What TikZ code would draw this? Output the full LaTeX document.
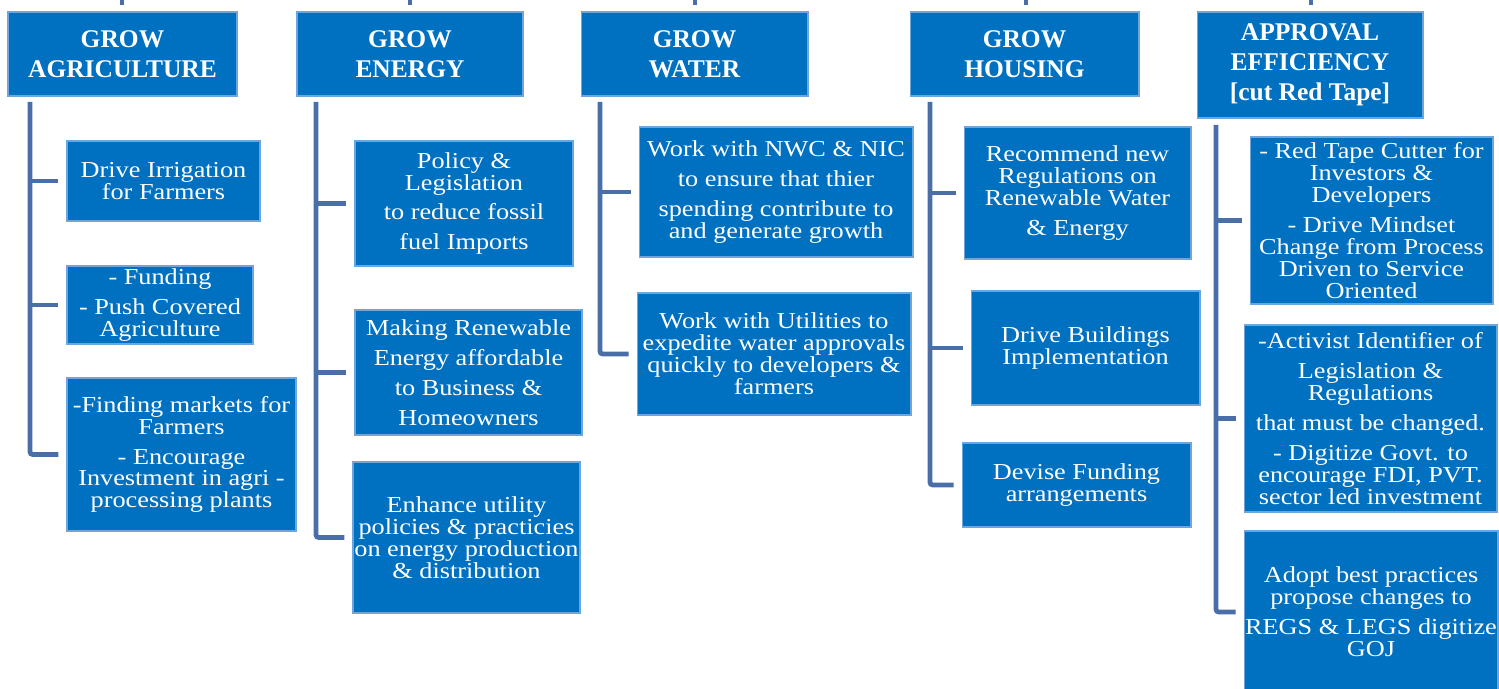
\documentclass[tikz,border=0pt]{standalone}
\usepackage{fontspec}
\setmainfont{Liberation Serif}
\newfontfamily\widefont{Liberation Serif}[FakeStretch=1.15]

\definecolor{boxblue}{RGB}{0,112,192}
\definecolor{linkblue}{RGB}{74,110,168}
\definecolor{edgeblue}{RGB}{110,165,220}

\tikzset{
	head/.style={rectangle,fill=boxblue,draw=edgeblue,line width=0.6pt,text=white,align=center,inner sep=0pt,font=\bfseries\fontsize{14.5}{17}\selectfont},
	task/.style={rectangle,fill=boxblue,draw=edgeblue,line width=0.6pt,text=white,align=center,inner sep=0pt,font=\widefont\fontsize{13}{12.5}\selectfont},
	link/.style={draw=linkblue,line width=2.7pt,rounded corners=1.5pt,shorten >=0.16cm},
	stub/.style={draw=linkblue,line width=2.3pt}
}

\begin{document}
\begin{tikzpicture}[x=0.02cm,y=-0.02cm]
		\useasboundingbox (0,0) rectangle (1499,689);

		% headers
		\node[head,minimum width=4.58cm,minimum height=1.68cm] (hagri) at (122.5,54) {GROW\\AGRICULTURE};
		\node[head,minimum width=4.52cm,minimum height=1.68cm] (henergy) at (410,54) {GROW\\ENERGY};
		\node[head,minimum width=4.54cm,minimum height=1.68cm] (hwater) at (694.5,54) {GROW\\WATER};
		\node[head,minimum width=4.58cm,minimum height=1.68cm] (hhousing) at (1024.5,54) {GROW\\HOUSING};
		\node[head,minimum width=4.52cm,minimum height=2.12cm] (happroval) at (1310,65) {APPROVAL\\EFFICIENCY\\{}[cut Red Tape]};

		% stubs from above
		\coordinate (sa1) at (122,0);   \coordinate (sa2) at (122,5);
		\coordinate (se1) at (410,0);   \coordinate (se2) at (410,5);
		\coordinate (sw1) at (695,0);   \coordinate (sw2) at (695,5);
		\coordinate (sh1) at (1026,0);  \coordinate (sh2) at (1026,5);
		\coordinate (sp1) at (1311,0);  \coordinate (sp2) at (1311,5);
		\draw[stub] (sa1) -- (sa2);
		\draw[stub] (se1) -- (se2);
		\draw[stub] (sw1) -- (sw2);
		\draw[stub] (sh1) -- (sh2);
		\draw[stub] (sp1) -- (sp2);

		% agriculture
		\node[task,minimum width=3.86cm,minimum height=1.6cm] (agri1) at (163.5,181) {Drive Irrigation\\for Farmers};
		\node[task,minimum width=3.72cm,minimum height=1.56cm] (agri2) at (160,305) {- Funding\\[4.5pt]- Push Covered\\Agriculture};
		\node[task,minimum width=4.58cm,minimum height=3.06cm] (agri3) at (181.5,454.5) {-Finding markets for\\Farmers\\[4.5pt]- Encourage\\Investment in agri -\\processing plants};

		% energy
		\node[task,minimum width=4.36cm,minimum height=2.5cm] (energy1) at (464,203.5) {Policy \&\\Legislation\\[4.5pt]to reduce fossil\\[4.5pt]fuel Imports};
		\node[task,minimum width=4.54cm,minimum height=2.5cm] (energy2) at (468.5,372.5) {Making Renewable\\[4.5pt]Energy affordable\\[4.5pt]to Business \&\\[4.5pt]Homeowners};
		\node[task,minimum width=4.54cm,minimum height=3.02cm] (energy3) at (466.5,537.5) {Enhance utility\\policies \& practicies\\on energy production\\\& distribution};

		% water
		\node[task,minimum width=5.48cm,minimum height=2.6cm] (water1) at (776,192) {Work with NWC \& NIC\\[4.5pt]to ensure that thier\\[4.5pt]spending contribute to\\and generate growth};
		\node[task,minimum width=5.48cm,minimum height=2.44cm] (water2) at (774,354) {Work with Utilities to\\expedite water approvals\\quickly to developers \&\\farmers};

		% housing
		\node[task,minimum width=4.54cm,minimum height=2.64cm] (housing1) at (1077.5,193) {Recommend new\\Regulations on\\Renewable Water\\[4.5pt]\& Energy};
		\node[task,minimum width=4.58cm,minimum height=2.28cm] (housing2) at (1085.5,348) {Drive Buildings\\Implementation};
		\node[task,minimum width=4.58cm,minimum height=1.68cm] (housing3) at (1076.5,485) {Devise Funding\\arrangements};

		% approval
		\node[task,minimum width=4.86cm,minimum height=3.34cm] (approval1) at (1371.5,220.5) {- Red Tape Cutter for\\Investors \&\\Developers\\[4.5pt]- Drive Mindset\\Change from Process\\Driven to Service\\Oriented};
		\node[task,minimum width=5.06cm,minimum height=3.74cm] (approval2) at (1370.5,418.5) {-Activist Identifier of\\[4.5pt]Legislation \&\\Regulations\\[4.5pt]that must be changed.\\[4.5pt]- Digitize Govt. to\\encourage FDI, PVT.\\sector led investment};
		\node[task,minimum width=5.08cm,minimum height=3.24cm] (approval3) at (1371,612) {Adopt best practices\\propose changes to\\[4.5pt]REGS \& LEGS digitize\\GOJ};

		% trunks
		\coordinate (tagri) at (30,102);
		\coordinate (tenergy) at (316,102);
		\coordinate (twater) at (600,102);
		\coordinate (thousing) at (930,102);
		\coordinate (tapproval) at (1216,125);

		\draw[link] (tagri) |- (agri3.west);
		\draw[link] (tagri |- agri1.west) -- (agri1.west);
		\draw[link] (tagri |- agri2.west) -- (agri2.west);

		\draw[link] (tenergy) |- (energy3.west);
		\draw[link] (tenergy |- energy1.west) -- (energy1.west);
		\draw[link] (tenergy |- energy2.west) -- (energy2.west);

		\draw[link] (twater) |- (water2.west);
		\draw[link] (twater |- water1.west) -- (water1.west);

		\draw[link] (thousing) |- (housing3.west);
		\draw[link] (thousing |- housing1.west) -- (housing1.west);
		\draw[link] (thousing |- housing2.west) -- (housing2.west);

		\draw[link] (tapproval) |- (approval3.west);
		\draw[link] (tapproval |- approval1.west) -- (approval1.west);
		\draw[link] (tapproval |- approval2.west) -- (approval2.west);
	\end{tikzpicture}
\end{document}
